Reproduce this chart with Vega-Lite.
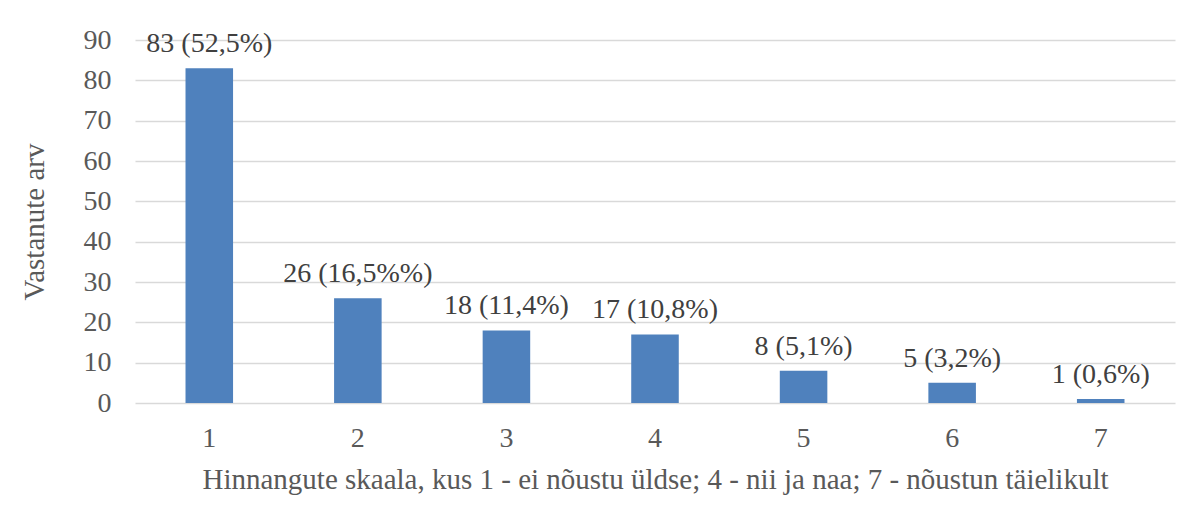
{
  "$schema": "https://vega.github.io/schema/vega-lite/v6.json",
  "width": 1040,
  "height": 363,
  "autosize": "none",
  "padding": {"left": 135, "top": 40, "right": 20, "bottom": 116},
  "background": "white",
  "config": {
    "view": {"stroke": null},
    "font": "Liberation Serif",
    "axis": {"labelFont": "Liberation Serif", "titleFont": "Liberation Serif", "labelColor": "#595959", "titleColor": "#595959", "labelFontSize": 28, "titleFontSize": 29, "titleFontWeight": "normal"}
  },
  "data": {
    "values": [
      {"k": "1", "n": 83, "label": "83 (52,5%)"},
      {"k": "2", "n": 26, "label": "26 (16,5%%)"},
      {"k": "3", "n": 18, "label": "18 (11,4%)"},
      {"k": "4", "n": 17, "label": "17 (10,8%)"},
      {"k": "5", "n": 8, "label": "8 (5,1%)"},
      {"k": "6", "n": 5, "label": "5 (3,2%)"},
      {"k": "7", "n": 1, "label": "1 (0,6%)"}
    ]
  },
  "encoding": {
    "x": {"field": "k", "type": "ordinal", "scale": {"paddingInner": 0.68, "paddingOuter": 0.34},
      "axis": {"title": "Hinnangute skaala, kus 1 - ei nõustu üldse; 4 - nii ja naa; 7 - nõustun täielikult", "labelAngle": 0, "domain": false, "ticks": false, "labelPadding": 21, "titlePadding": 13}},
    "y": {"field": "n", "type": "quantitative", "scale": {"domain": [0, 90]},
      "axis": {"title": "Vastanute arv", "values": [0,10,20,30,40,50,60,70,80,90], "domain": false, "ticks": false, "labelPadding": 24, "titlePadding": 34, "gridColor": "#d9d9d9", "gridWidth": 1.5}}
  },
  "layer": [
    {"mark": {"type": "bar", "color": "#4f81bd"}},
    {"mark": {"type": "text", "baseline": "alphabetic", "dy": -16, "fontSize": 28, "color": "#404040", "font": "Liberation Serif"},
     "encoding": {"text": {"field": "label"}}}
  ]
}
